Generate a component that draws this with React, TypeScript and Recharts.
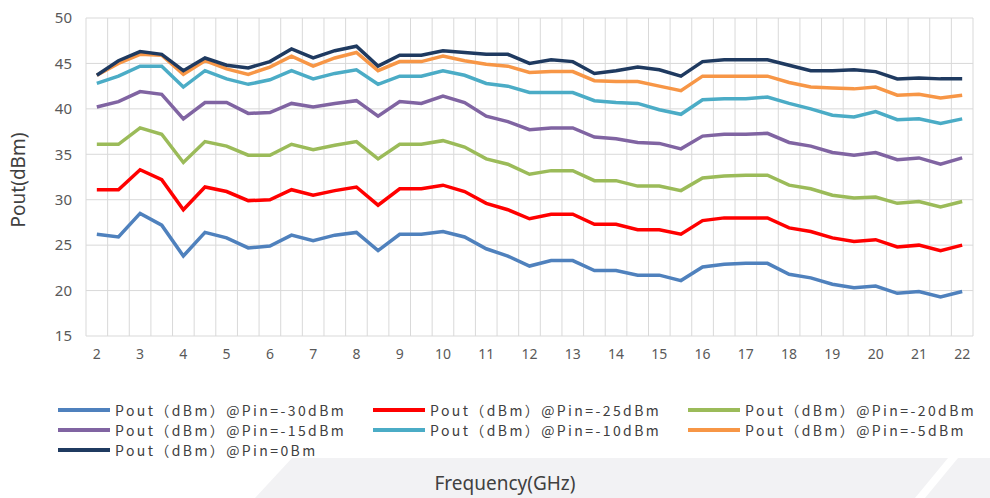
import React from 'react';
import { LineChart, Line, XAxis, YAxis, CartesianGrid, ReferenceLine } from 'recharts';

const freqs = [
  2, 2.5, 3, 3.5, 4, 4.5, 5, 5.5, 6, 6.5, 7, 7.5, 8, 8.5, 9, 9.5, 10, 10.5, 11, 11.5,
  12, 12.5, 13, 13.5, 14, 14.5, 15, 15.5, 16, 16.5, 17, 17.5, 18, 18.5, 19, 19.5, 20, 20.5,
  21, 21.5, 22,
];

const pinM30 = [
  26.2, 25.9, 28.5, 27.2, 23.8, 26.4, 25.8, 24.7, 24.9, 26.1, 25.5, 26.1, 26.4, 24.4, 26.2, 26.2,
  26.5, 25.9, 24.6, 23.8, 22.7, 23.3, 23.3, 22.2, 22.2, 21.7, 21.7, 21.1, 22.6, 22.9, 23.0, 23.0,
  21.8, 21.4, 20.7, 20.3, 20.5, 19.7, 19.9, 19.3, 19.9,
];
const pinM25 = [
  31.1, 31.1, 33.3, 32.2, 28.9, 31.4, 30.9, 29.9, 30.0, 31.1, 30.5, 31.0, 31.4, 29.4, 31.2, 31.2,
  31.6, 30.9, 29.6, 28.9, 27.9, 28.4, 28.4, 27.3, 27.3, 26.7, 26.7, 26.2, 27.7, 28.0, 28.0, 28.0,
  26.9, 26.5, 25.8, 25.4, 25.6, 24.8, 25.0, 24.4, 25.0,
];
const pinM20 = [
  36.1, 36.1, 37.9, 37.2, 34.1, 36.4, 35.9, 34.9, 34.9, 36.1, 35.5, 36.0, 36.4, 34.5, 36.1, 36.1,
  36.5, 35.8, 34.5, 33.9, 32.8, 33.2, 33.2, 32.1, 32.1, 31.5, 31.5, 31.0, 32.4, 32.6, 32.7, 32.7,
  31.6, 31.2, 30.5, 30.2, 30.3, 29.6, 29.8, 29.2, 29.8,
];
const pinM15 = [
  40.2, 40.8, 41.9, 41.6, 38.9, 40.7, 40.7, 39.5, 39.6, 40.6, 40.2, 40.6, 40.9, 39.2, 40.8, 40.6,
  41.4, 40.7, 39.2, 38.6, 37.7, 37.9, 37.9, 36.9, 36.7, 36.3, 36.2, 35.6, 37.0, 37.2, 37.2, 37.3,
  36.3, 35.9, 35.2, 34.9, 35.2, 34.4, 34.6, 33.9, 34.6,
];
const pinM10 = [
  42.8, 43.6, 44.7, 44.7, 42.4, 44.2, 43.3, 42.7, 43.2, 44.2, 43.3, 43.9, 44.3, 42.7, 43.6, 43.6,
  44.2, 43.7, 42.8, 42.5, 41.8, 41.8, 41.8, 40.9, 40.7, 40.6, 39.9, 39.4, 41.0, 41.1, 41.1, 41.3,
  40.6, 40.0, 39.3, 39.1, 39.7, 38.8, 38.9, 38.4, 38.9,
];
const pinM5 = [
  43.7, 45.0, 46.0, 45.9, 43.8, 45.3, 44.4, 43.8, 44.6, 45.8, 44.7, 45.6, 46.2, 44.2, 45.2, 45.2,
  45.8, 45.3, 44.9, 44.7, 44.0, 44.1, 44.1, 43.1, 43.0, 43.0, 42.5, 42.0, 43.6, 43.6, 43.6, 43.6,
  42.9, 42.4, 42.3, 42.2, 42.4, 41.5, 41.6, 41.2, 41.5,
];
const pin0 = [
  43.7, 45.3, 46.3, 46.0, 44.2, 45.6, 44.8, 44.5, 45.2, 46.6, 45.6, 46.4, 46.9, 44.7, 45.9, 45.9,
  46.4, 46.2, 46.0, 46.0, 45.0, 45.4, 45.2, 43.9, 44.2, 44.6, 44.3, 43.6, 45.2, 45.4, 45.4, 45.4,
  44.8, 44.2, 44.2, 44.3, 44.1, 43.3, 43.4, 43.3, 43.3,
];

const xTicks = [2, 3, 4, 5, 6, 7, 8, 9, 10, 11, 12, 13, 14, 15, 16, 17, 18, 19, 20, 21, 22];
const yTicks = [15, 20, 25, 30, 35, 40, 45, 50];

const series = [
  { key: 'p30', name: 'Pout（dBm）@Pin=-30dBm', color: '#4f81bd', values: pinM30 },
  { key: 'p25', name: 'Pout（dBm）@Pin=-25dBm', color: '#ff0000', values: pinM25 },
  { key: 'p20', name: 'Pout（dBm）@Pin=-20dBm', color: '#9bbb59', values: pinM20 },
  { key: 'p15', name: 'Pout（dBm）@Pin=-15dBm', color: '#8064a2', values: pinM15 },
  { key: 'p10', name: 'Pout（dBm）@Pin=-10dBm', color: '#4bacc6', values: pinM10 },
  { key: 'p5', name: 'Pout（dBm）@Pin=-5dBm', color: '#f79646', values: pinM5 },
  { key: 'p0', name: 'Pout（dBm）@Pin=0Bm', color: '#1f3a60', values: pin0 },
];

const data = freqs.map((f, i) => {
  const row: Record<string, number> = { f };
  series.forEach((s) => {
    row[s.key] = s.values[i];
  });
  return row;
});

// Excel style: vertical gridlines sit between categories
const boundaries = [...freqs.map((f) => f - 0.25), freqs[freqs.length - 1] + 0.25];

const font = '"Noto Sans", "Open Sans", sans-serif';
const gridColor = '#d9d9d9';

export default function App() {
  return (
    <div
      style={{
        position: 'absolute',
        left: 0,
        top: 0,
        width: 990,
        height: 498,
        background: '#fff',
        overflow: 'hidden',
        fontFamily: font,
      }}
    >
      {/* faint watermark band at the bottom */}
      <div
        style={{
          position: 'absolute',
          left: 0,
          top: 458,
          width: 990,
          height: 40,
          background: '#f2f2f4',
          clipPath: 'polygon(292px 0, 990px 0, 990px 40px, 255px 40px)',
        }}
      />
      <div
        style={{
          position: 'absolute',
          left: 0,
          top: 458,
          width: 990,
          height: 40,
          background: '#fff',
          clipPath: 'polygon(948px 0, 958px 0, 925px 40px, 915px 40px)',
        }}
      />

      <div style={{ position: 'absolute', left: 0, top: 0 }}>
        <LineChart
          width={990}
          height={370}
          data={data}
          margin={{ top: 18, right: 17, left: 0, bottom: 4 }}
        >
          <CartesianGrid vertical={false} stroke={gridColor} strokeWidth={1} />
          {boundaries.map((b) => (
            <ReferenceLine key={b} x={b} stroke={gridColor} strokeWidth={1} />
          ))}
          <XAxis
            dataKey="f"
            type="number"
            domain={[boundaries[0], boundaries[boundaries.length - 1]]}
            ticks={xTicks}
            interval={0}
            axisLine={false}
            tickLine={false}
            tickSize={0}
            tickMargin={13}
            height={30}
            tick={{ fill: '#595959', fontSize: 14, fontFamily: font }}
          />
          <YAxis
            domain={[15, 50]}
            ticks={yTicks}
            interval={0}
            width={86}
            axisLine={false}
            tickLine={false}
            tickSize={0}
            tickMargin={14}
            tick={{ fill: '#595959', fontSize: 15, fontFamily: font }}
          />
          {series.map((s) => (
            <Line
              key={s.key}
              dataKey={s.key}
              name={s.name}
              stroke={s.color}
              strokeWidth={3.5}
              dot={false}
              isAnimationActive={false}
            />
          ))}
        </LineChart>
      </div>

      <div
        style={{
          position: 'absolute',
          left: 18,
          top: 180,
          transform: 'translate(-50%, -50%) rotate(-90deg)',
          fontSize: 19,
          color: '#404040',
          whiteSpace: 'nowrap',
        }}
      >
        Pout(dBm)
      </div>

      <div
        style={{
          position: 'absolute',
          left: 58,
          top: 401,
          display: 'grid',
          gridTemplateColumns: '315px 315px 315px',
          rowGap: 2,
        }}
      >
        {series.map((s) => (
          <div key={s.key} style={{ display: 'flex', alignItems: 'center', height: 18 }}>
            <span
              style={{ display: 'inline-block', width: 52, height: 4, background: s.color, marginRight: 5 }}
            />
            <span
              style={{
                fontSize: 14,
                letterSpacing: 2.4,
                color: '#404040',
                whiteSpace: 'nowrap',
                fontFamily: '"Noto Sans CJK SC", "Noto Sans", sans-serif',
              }}
            >
              {s.name}
            </span>
          </div>
        ))}
      </div>

      <div
        style={{
          position: 'absolute',
          left: 505,
          top: 483,
          transform: 'translate(-50%, -50%)',
          fontSize: 19,
          color: '#404040',
          whiteSpace: 'nowrap',
        }}
      >
        Frequency(GHz)
      </div>
    </div>
  );
}
